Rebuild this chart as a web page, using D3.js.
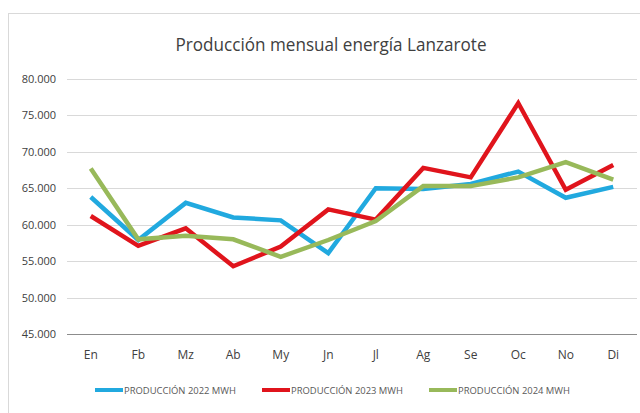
<!DOCTYPE html>
<html>
<head>
  <meta charset="utf-8">
  <title>Producción mensual energía Lanzarote</title>
  <script src="https://d3js.org/d3.v7.min.js"></script>
  <style>
    body { margin: 0; background: #fff; }
    text { font-family: "Open Sans", "Noto Sans", sans-serif; }
  </style>
</head>
<body>
  <svg id="chart" width="640" height="413"></svg>
  <script>
    // months
    var months = ['En', 'Fb', 'Mz', 'Ab', 'My', 'Jn', 'Jl', 'Ag', 'Se', 'Oc', 'No', 'Di'];
    // MWh per month
    var prod2022 = [63800, 57900, 63000, 61000, 60600, 56100, 65000, 64900, 65600, 67300, 63700, 65200];
    var prod2023 = [61200, 57100, 59500, 54300, 57000, 62100, 60700, 67800, 66500, 76700, 64800, 68200];
    var prod2024 = [67700, 58000, 58500, 58000, 55600, 57900, 60500, 65300, 65300, 66500, 68600, 66200];
    var seriesNames = ['PRODUCCIÓN 2022 MWH', 'PRODUCCIÓN 2023 MWH', 'PRODUCCIÓN 2024 MWH'];
    var yTicks = [45000, 50000, 55000, 60000, 65000, 70000, 75000, 80000];

    var colors = ['#21a9df', '#e0141c', '#98b95a'];
    var series = [prod2022, prod2023, prod2024];

    var svg = d3.select('#chart');

    // outer chart frame
    svg.append('rect')
      .attr('x', 8.5).attr('y', 13.5)
      .attr('width', 640).attr('height', 420)
      .attr('fill', 'none')
      .attr('stroke', '#d9d9d9');

    var margin = { top: 79, left: 67, right: 3, bottom: 79 };
    var width = 640 - margin.left - margin.right;
    var height = 413 - margin.top - margin.bottom;

    var x = d3.scaleBand()
      .domain(months)
      .range([margin.left, margin.left + width]);
    var y = d3.scaleLinear()
      .domain([45000, 80000])
      .range([margin.top + height, margin.top]);

    // title
    svg.append('text')
      .attr('x', 331).attr('y', 51)
      .attr('text-anchor', 'middle')
      .attr('font-size', 18)
      .attr('fill', '#404040')
      .attr('textLength', 311)
      .attr('lengthAdjust', 'spacingAndGlyphs')
      .text('Producción mensual energía Lanzarote');

    // gridlines
    svg.append('g').selectAll('line')
      .data(yTicks)
      .enter().append('line')
      .attr('x1', margin.left).attr('x2', margin.left + width)
      .attr('y1', function(d) { return Math.round(y(d)) + 0.5; })
      .attr('y2', function(d) { return Math.round(y(d)) + 0.5; })
      .attr('stroke', function(d) { return d === 45000 ? '#8c8c8c' : '#d9d9d9'; })
      .attr('stroke-width', 1);

    var fmt = d3.formatLocale({ decimal: ',', thousands: '.', grouping: [3], currency: ['', ''] }).format(',.0f');

    var yAxis = svg.append('g')
      .attr('transform', 'translate(' + margin.left + ',0)')
      .call(d3.axisLeft(y).tickValues(yTicks).tickSize(0).tickPadding(11).tickFormat(fmt));
    yAxis.select('.domain').remove();
    yAxis.selectAll('text')
      .attr('font-size', 11)
      .attr('fill', '#404040')
      .attr('font-family', '"Open Sans", sans-serif');

    var xAxis = svg.append('g')
      .attr('transform', 'translate(0,' + (margin.top + height) + ')')
      .call(d3.axisBottom(x).tickSize(0).tickPadding(16));
    xAxis.select('.domain').remove();
    xAxis.selectAll('text')
      .attr('font-size', 12)
      .attr('fill', '#404040')
      .attr('font-family', '"Open Sans", sans-serif');

    // lines
    var line = d3.line()
      .x(function(d, i) { return x(months[i]) + x.bandwidth() / 2; })
      .y(function(d) { return y(d); });

    svg.append('g').selectAll('path')
      .data(series)
      .enter().append('path')
      .attr('d', line)
      .attr('fill', 'none')
      .attr('stroke', function(d, i) { return colors[i]; })
      .attr('stroke-width', 4.5)
      .attr('stroke-linejoin', 'miter');

    // legend
    var legendX = [95, 262, 429];
    var legend = svg.append('g').selectAll('g')
      .data(seriesNames)
      .enter().append('g')
      .attr('transform', function(d, i) { return 'translate(' + legendX[i] + ',390)'; });
    legend.append('line')
      .attr('x1', 0).attr('x2', 28)
      .attr('y1', 0).attr('y2', 0)
      .attr('stroke', function(d, i) { return colors[i]; })
      .attr('stroke-width', 4);
    legend.append('text')
      .attr('x', 29).attr('y', 3.5)
      .attr('font-size', 9)
      .attr('fill', '#595959')
      .attr('textLength', 112)
      .attr('lengthAdjust', 'spacingAndGlyphs')
      .text(function(d) { return d; });
  </script>
</body>
</html>
